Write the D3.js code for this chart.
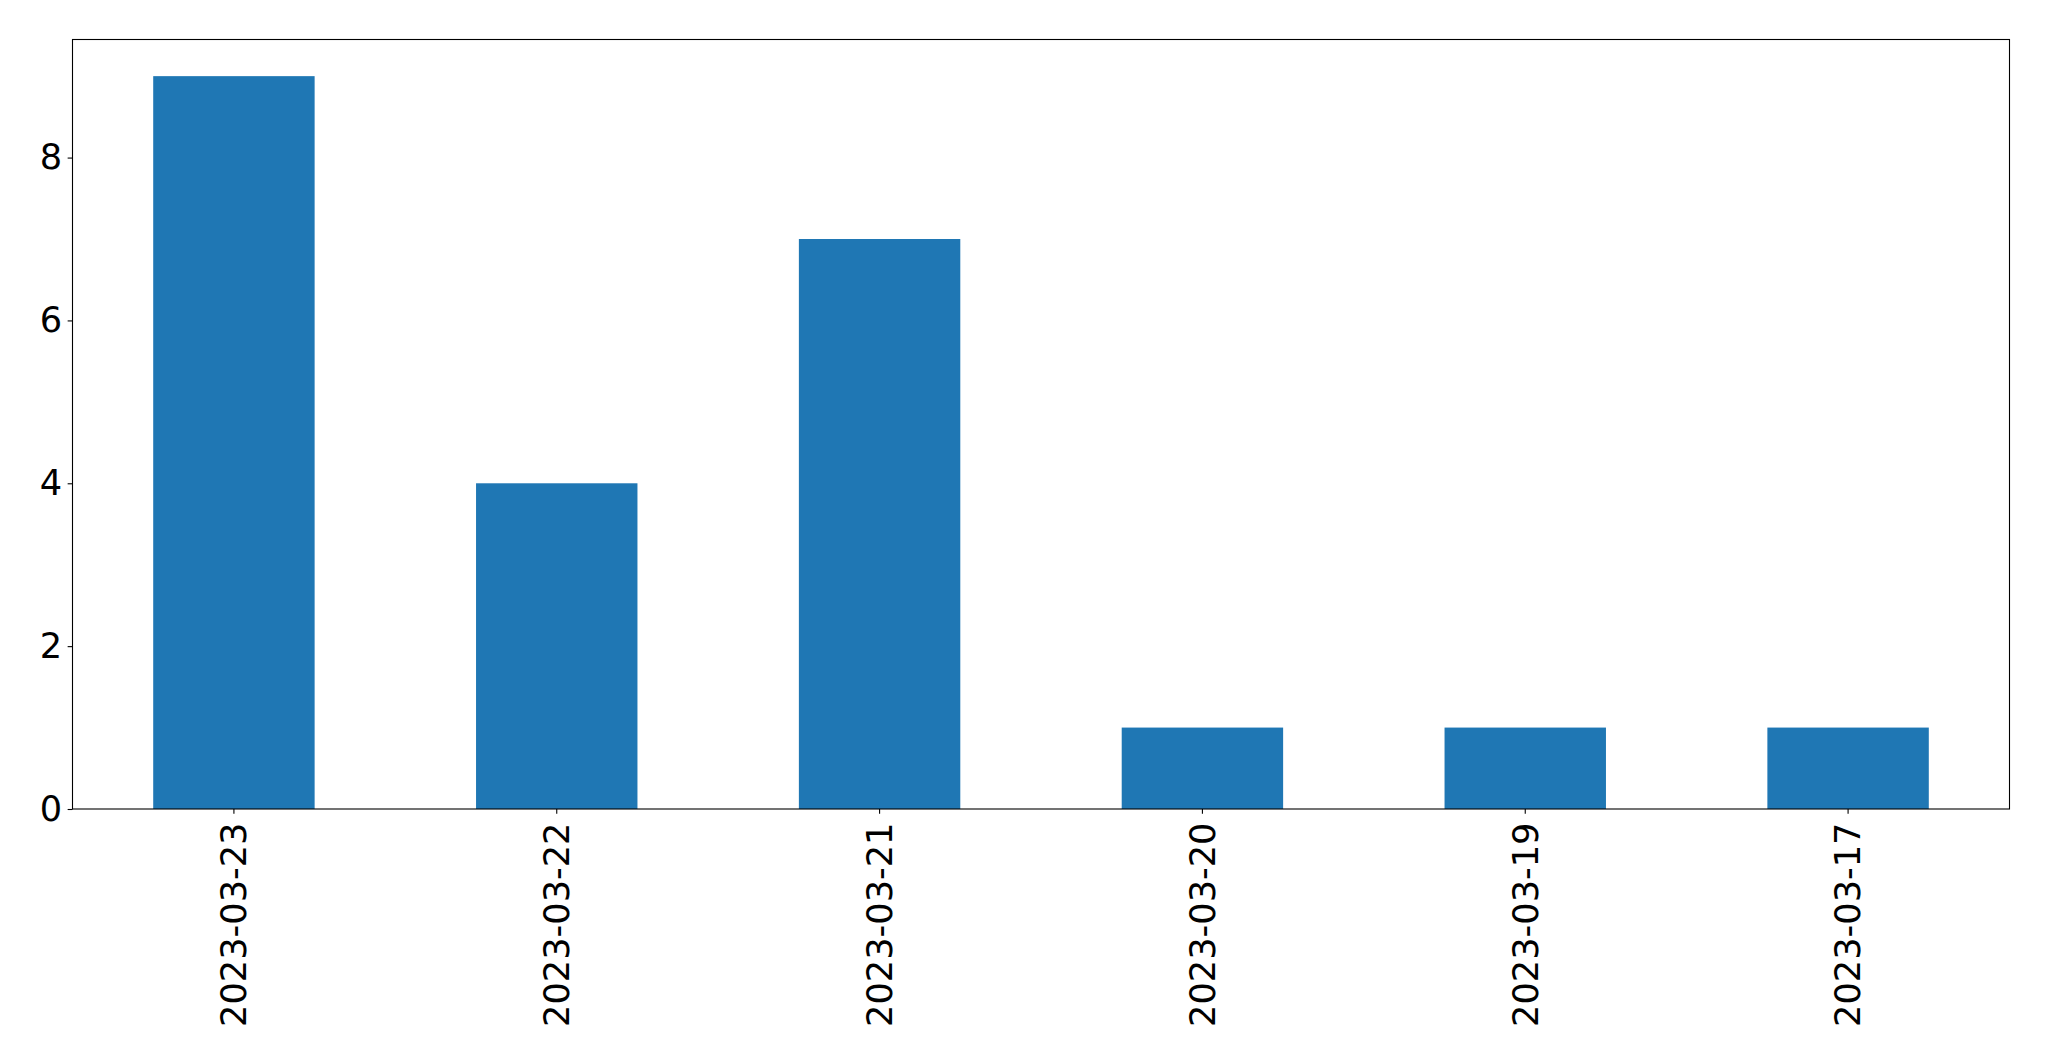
<!DOCTYPE html>
<html><head><meta charset="utf-8">
<script src="https://cdn.jsdelivr.net/npm/d3@7"></script>
<style>body{margin:0;background:#fff}svg{display:block}</style>
</head><body>
<script>
const categories = ["2023-03-23","2023-03-22","2023-03-21","2023-03-20","2023-03-19","2023-03-17"];
const values = [9,4,7,1,1,1];
const yTicks = [0,2,4,6,8];

const W = 2049, H = 1061;
const m = {left:72.5, right:2009.5, top:39.5, bottom:809};
const svg = d3.select("body").append("svg").attr("width",W).attr("height",H);
const x = d3.scaleBand().domain(categories).range([m.left,m.right]).paddingInner(0.5).paddingOuter(0.25);
const y = d3.scaleLinear().domain([0, d3.max(values)*1.05]).range([m.bottom,m.top]);

svg.append("g").selectAll("rect").data(values).join("rect")
  .attr("x",(d,i)=>x(categories[i])).attr("width",x.bandwidth())
  .attr("y",d=>y(d)).attr("height",d=>y(0)-y(d)).attr("fill","#1f77b4");

const font = "DejaVu Sans";
const fs = 35.2;
const yAxis = svg.append("g").attr("transform",`translate(${m.left},0)`)
  .call(d3.axisLeft(y).tickValues(yTicks).tickSize(4.86).tickPadding(5.5).tickFormat(d3.format("d")));
yAxis.select(".domain").remove();
yAxis.selectAll("text").attr("font-family",font).attr("font-size",fs).attr("fill","#000");
yAxis.selectAll("line").attr("stroke","#000").attr("stroke-width",1.1);

const xAxis = svg.append("g").attr("transform",`translate(0,${m.bottom})`)
  .call(d3.axisBottom(x).tickSize(4.86).tickPadding(0));
xAxis.select(".domain").remove();
xAxis.selectAll("line").attr("stroke","#000").attr("stroke-width",1.1);
xAxis.selectAll("text").attr("font-family",font).attr("font-size",fs).attr("fill","#000")
  .attr("transform","rotate(-90)").attr("text-anchor","end")
  .attr("x",-13.5).attr("y",0).attr("dy","0.35em");

svg.append("rect").attr("x",m.left).attr("y",m.top).attr("width",m.right-m.left).attr("height",m.bottom-m.top)
  .attr("fill","none").attr("stroke","#000").attr("stroke-width",1.1);
</script>
</body></html>
